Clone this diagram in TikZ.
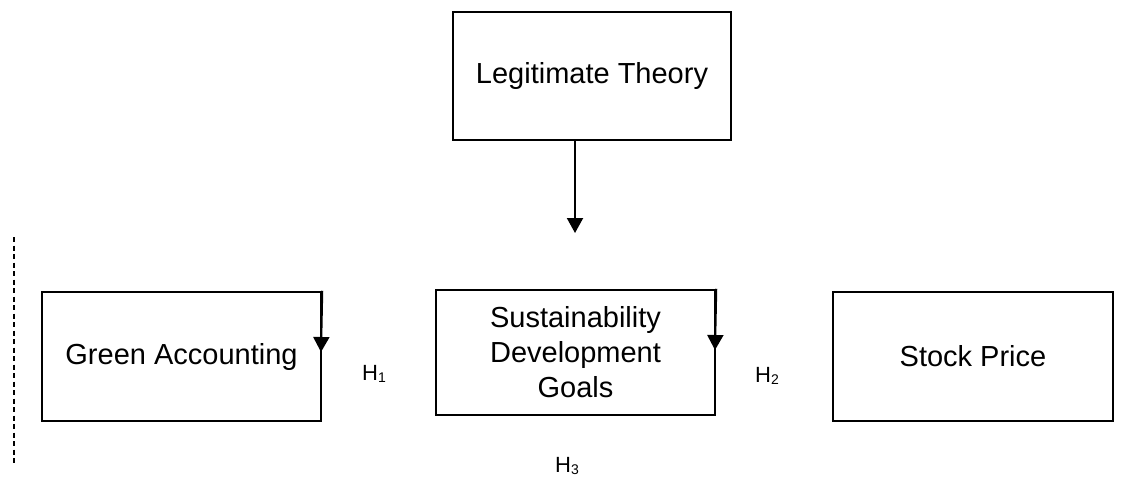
\documentclass[tikz,border=0pt]{standalone}
\usepackage{fontspec}
\setmainfont{Liberation Sans}
\usetikzlibrary{arrows.meta}
\newcommand{\hsub}[1]{H\raisebox{-2.5pt}{\fontsize{14}{14}\selectfont #1}}
\begin{document}
\begin{tikzpicture}[x=1pt,y=-1pt,
  box/.style={draw, line width=2.5pt, align=center, inner sep=0pt, font=\fontsize{29}{35}\selectfont},
  arr/.style={line width=2pt, -{Triangle[width=16pt,length=15pt]}},
  hyp/.style={inner sep=0pt, font=\fontsize{22}{24}\selectfont}]
\useasboundingbox (0,0) rectangle (1142,477);
\node[box, minimum width=278pt, minimum height=128pt] (legit) at (592,76){Legitimate Theory};
\node[box, minimum width=279pt, minimum height=129pt] (ga) at (181.5,356.5){Green Accounting};
\node[box, minimum width=279pt, minimum height=125pt] (sdg) at (575.5,352.5){Sustainability\\Development\\Goals};
\node[box, minimum width=280pt, minimum height=129pt] (sp) at (973,356.5){Stock Price};
\coordinate (lttip) at (575,233);
\coordinate (gatip) at (321,352);
\coordinate (sdgtip) at (715,350);
\draw[arr](legit.south -| lttip) -- (lttip);
\draw[arr](ga.north east) -- (gatip);
\draw[arr](sdg.north east) -- (sdgtip);
\node[hyp] (h1) at (374,374){\hsub{1}};
\node[hyp] (h2) at (767,376){\hsub{2}};
\node[hyp] (h3) at (567,466){\hsub{3}};
\draw[line width=1.5pt, dash pattern=on 5pt off 3.5pt] (14,237) -- (14,465);
\end{tikzpicture}
\end{document}
